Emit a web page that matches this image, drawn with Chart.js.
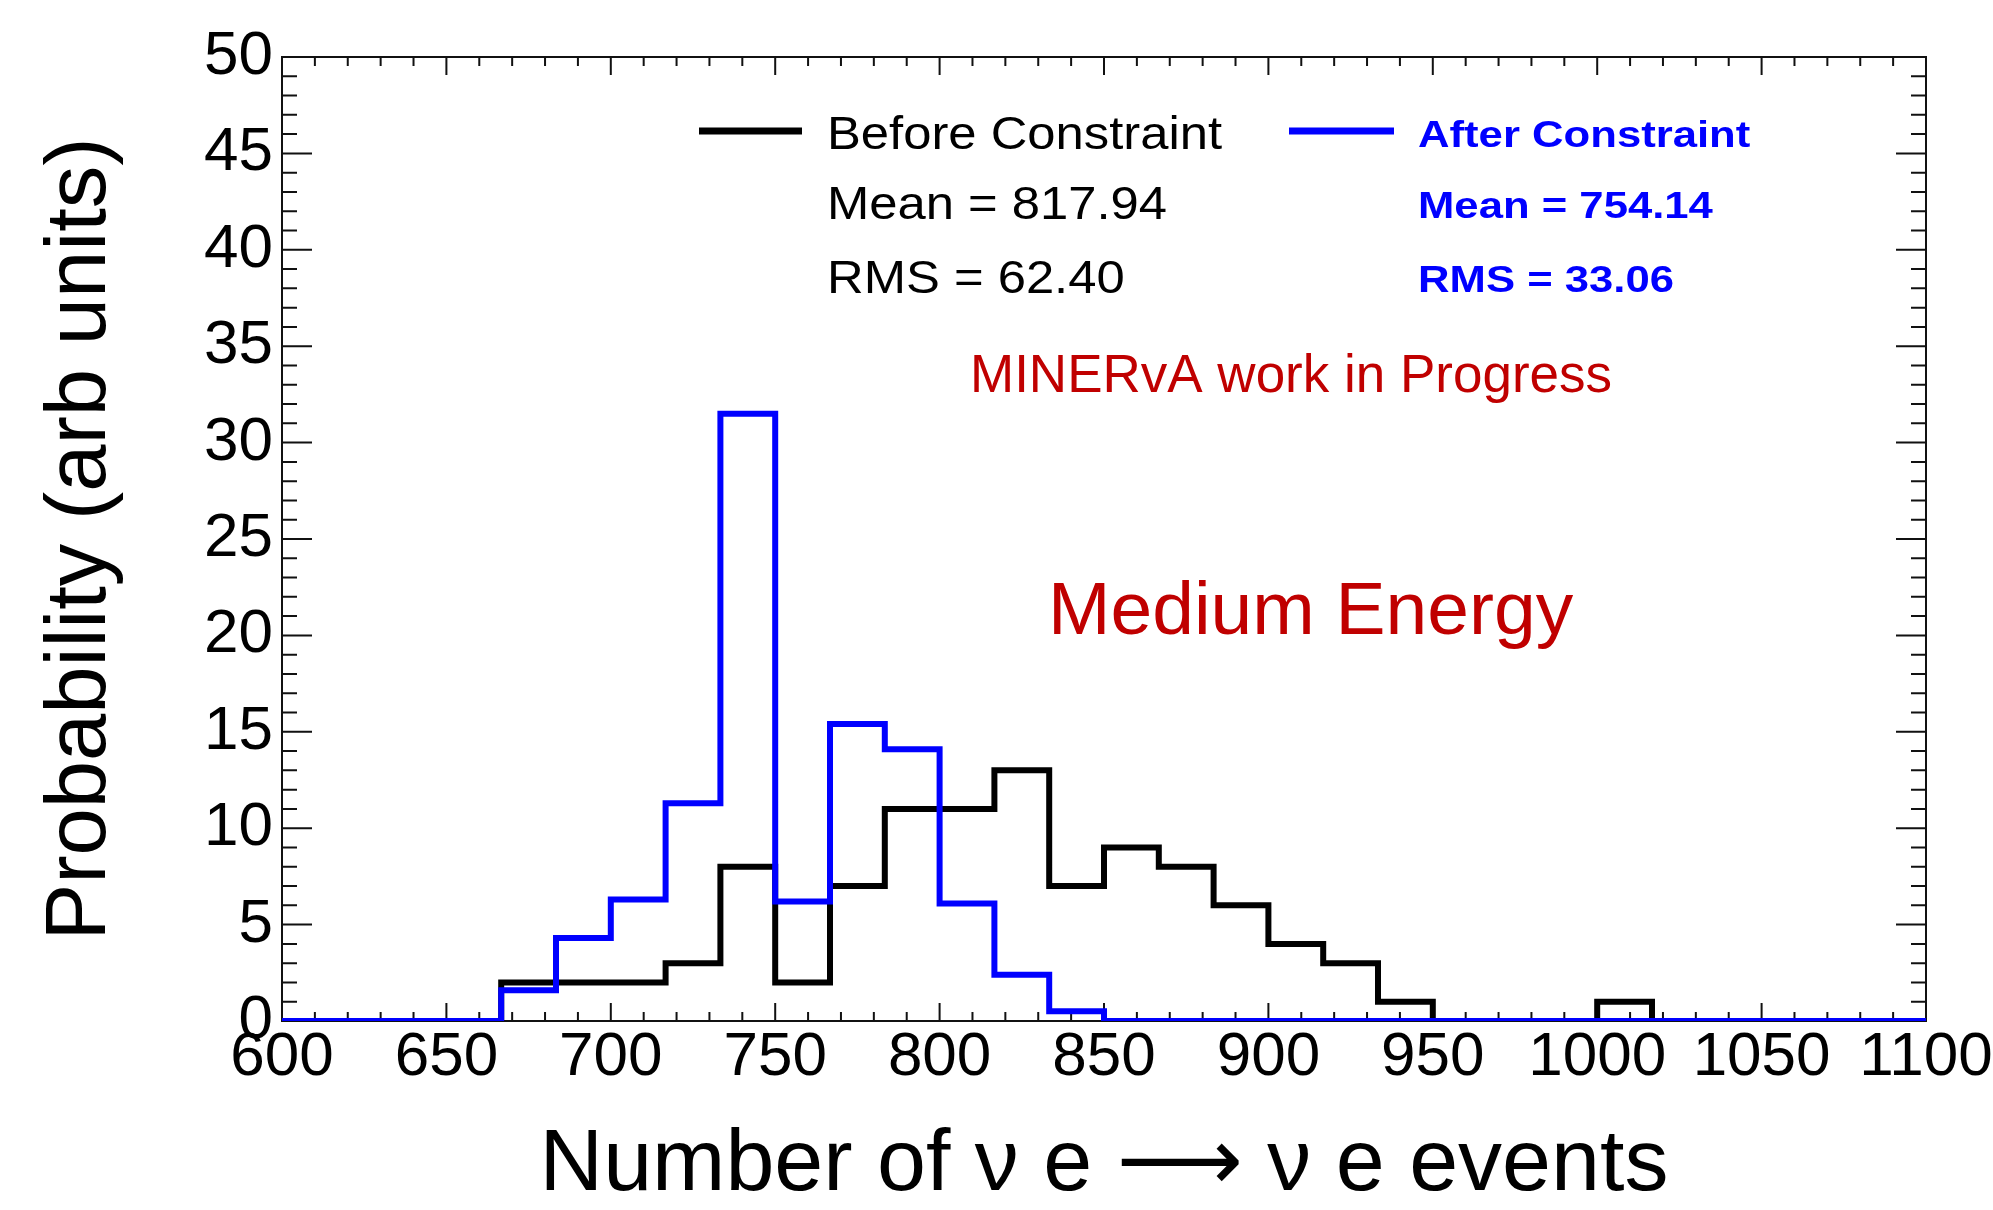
<!DOCTYPE html>
<html>
<head>
<meta charset="utf-8">
<script src="https://cdn.jsdelivr.net/npm/chart.js@4.4.1/dist/chart.umd.min.js"></script>
<style>
  html, body { margin: 0; padding: 0; background: #fff; }
  #wrap { width: 1993px; height: 1210px; }
</style>
</head>
<body>
<div id="wrap"><canvas id="hist" width="1993" height="1210"></canvas></div>
<script>
// histogram binning (30 bins from 600 to 1100)
var xMin = 600;
var xMax = 1100;
var nBins = 30;

// bin contents
var beforeValues = [0, 0, 0, 0, 2, 2, 2, 3, 8, 2, 7, 11, 11, 13, 7, 9, 8, 6, 4, 3, 1, 0, 0, 0, 1, 0, 0, 0, 0, 0];
var afterValues  = [0, 0, 0, 0, 1.6, 4.3, 6.3, 11.3, 31.5, 6.2, 15.4, 14.1, 6.1, 2.4, 0.5, 0, 0, 0, 0, 0, 0, 0, 0, 0, 0, 0, 0, 0, 0, 0];

var seriesNames = ['Before Constraint', 'After Constraint'];
var seriesMeans = ['Mean = 817.94', 'Mean = 754.14'];
var seriesRms = ['RMS = 62.40', 'RMS = 33.06'];
var xTitle = 'Number of \u03BD e \u27F6 \u03BD e events';
var yTitle = 'Probability (arb units)';
var noteText = 'MINERvA work in Progress';
var beamText = 'Medium Energy';

var FONT = "'Liberation Sans', Arial, Helvetica, 'DejaVu Sans', sans-serif";
var RED = '#c00000';

function histPoints(values) {
    var binWidth = (xMax - xMin) / nBins;
    var pts = [];
    for (var i = 0; i < values.length; i++) {
        pts.push({x: xMin + i * binWidth, y: values[i]});
    }
    pts.push({x: xMax, y: values[values.length - 1]});
    return pts;
}

function drawText(ctx, text, x, y, font, color, sx) {
    ctx.save();
    ctx.translate(x, y);
    ctx.scale(sx, 1);
    ctx.font = font;
    ctx.fillStyle = color;
    ctx.textAlign = 'left';
    ctx.textBaseline = 'alphabetic';
    ctx.fillText(text, 0, 0);
    ctx.restore();
}

// frame with ROOT-style inward ticks on all four sides
var frameTicks = {
    id: 'frameTicks',
    beforeDatasetsDraw: function(chart) {
        var ctx = chart.ctx, a = chart.chartArea;
        var xs = chart.scales.x, ys = chart.scales.y;
        ctx.save();
        ctx.strokeStyle = '#111';
        ctx.lineWidth = 2;
        ctx.strokeRect(a.left, a.top, a.right - a.left, a.bottom - a.top);
        ctx.beginPath();
        for (var v = xMin; v <= xMax; v += 10) {
            var px = xs.getPixelForValue(v);
            var len = (v % 50 === 0) ? 18 : 9;
            ctx.moveTo(px, a.bottom); ctx.lineTo(px, a.bottom - len);
            ctx.moveTo(px, a.top); ctx.lineTo(px, a.top + len);
        }
        for (var w = 0; w <= 50; w += 1) {
            var py = ys.getPixelForValue(w);
            var l2 = (w % 5 === 0) ? 30 : 15;
            ctx.moveTo(a.left, py); ctx.lineTo(a.left + l2, py);
            ctx.moveTo(a.right, py); ctx.lineTo(a.right - l2, py);
        }
        ctx.stroke();
        ctx.restore();
    }
};

// legend block and the red labels
var annotations = {
    id: 'annotations',
    afterDraw: function(chart) {
        var ctx = chart.ctx;
        ctx.save();
        ctx.lineWidth = 7;
        ctx.strokeStyle = '#000';
        ctx.beginPath(); ctx.moveTo(699, 131); ctx.lineTo(802, 131); ctx.stroke();
        ctx.strokeStyle = '#0000ff';
        ctx.beginPath(); ctx.moveTo(1289, 131); ctx.lineTo(1394, 131); ctx.stroke();
        ctx.restore();

        var reg = '47px ' + FONT;
        drawText(ctx, seriesNames[0], 827, 149, reg, '#000', 1.08);
        drawText(ctx, seriesMeans[0], 827, 219, reg, '#000', 1.08);
        drawText(ctx, seriesRms[0], 827, 293, reg, '#000', 1.08);

        var bold = 'bold 37px ' + FONT;
        drawText(ctx, seriesNames[1], 1418, 147, bold, '#0000ff', 1.18);
        drawText(ctx, seriesMeans[1], 1418, 218, bold, '#0000ff', 1.18);
        drawText(ctx, seriesRms[1], 1418, 292, bold, '#0000ff', 1.18);

        drawText(ctx, noteText, 970, 392, '53px ' + FONT, RED, 1);
        drawText(ctx, beamText, 1048, 634, '75px ' + FONT, RED, 1);
    }
};

var ctx = document.getElementById('hist').getContext('2d');
var chart = new Chart(ctx, {
    type: 'line',
    data: {
        datasets: [{
            label: seriesNames[0],
            data: histPoints(beforeValues),
            borderColor: '#000',
            borderWidth: 6,
            stepped: true,
            pointRadius: 0,
            fill: false,
            order: 2
        }, {
            label: seriesNames[1],
            data: histPoints(afterValues),
            borderColor: '#0000ff',
            borderWidth: 6,
            stepped: true,
            pointRadius: 0,
            fill: false,
            order: 1
        }]
    },
    options: {
        responsive: false,
        animation: false,
        devicePixelRatio: 1,
        layout: { padding: { left: 0, right: 67, top: 57, bottom: 0 } },
        plugins: {
            legend: { display: false },
            tooltip: { enabled: false }
        },
        scales: {
            x: {
                type: 'linear',
                min: xMin,
                max: xMax,
                grid: { display: false, drawTicks: false },
                border: { display: false },
                ticks: {
                    stepSize: 50,
                    autoSkip: false,
                    maxRotation: 0,
                    padding: 0,
                    color: '#000',
                    font: { family: FONT, size: 62 },
                    callback: function(value) { return String(value); }
                },
                title: {
                    display: true,
                    text: xTitle,
                    color: '#000',
                    font: { family: FONT, size: 88, lineHeight: 1 },
                    padding: { top: 0, bottom: 0 }
                },
                afterFit: function(scale) {
                    scale.height = 189;
                    scale.paddingLeft = 0;
                    scale.paddingRight = 0;
                }
            },
            y: {
                type: 'linear',
                min: 0,
                max: 50,
                grid: { display: false, drawTicks: false },
                border: { display: false },
                ticks: {
                    stepSize: 5,
                    padding: 9,
                    color: '#000',
                    font: { family: FONT, size: 62 }
                },
                title: {
                    display: true,
                    text: yTitle,
                    color: '#000',
                    font: { family: FONT, size: 85 },
                    padding: { top: 31, bottom: 0 }
                },
                afterFit: function(scale) {
                    scale.width = 282;
                    scale.paddingTop = 0;
                    scale.paddingBottom = 0;
                }
            }
        }
    },
    plugins: [frameTicks, annotations]
});
</script>
</body>
</html>
